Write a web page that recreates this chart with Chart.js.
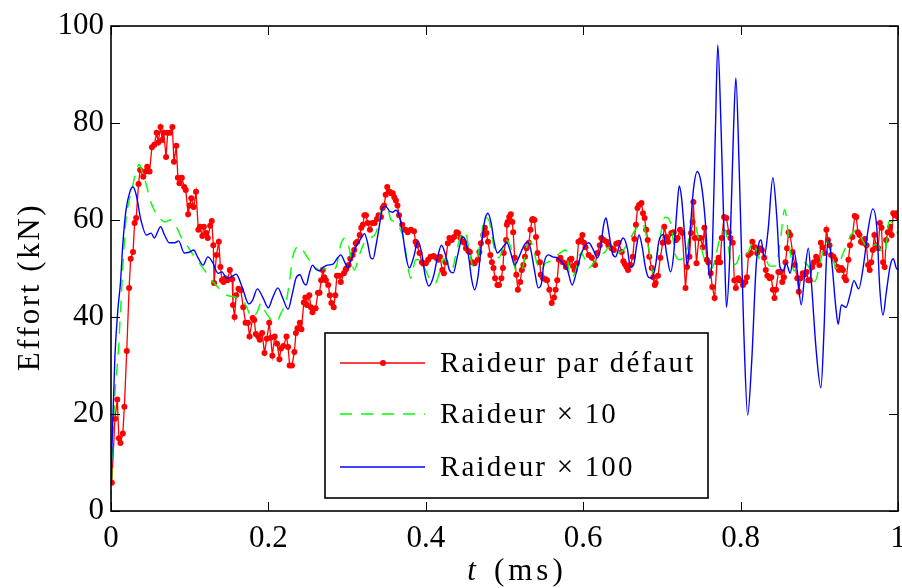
<!DOCTYPE html>
<html>
<head>
<meta charset="utf-8">
<script src="https://cdn.jsdelivr.net/npm/chart.js@4.4.0/dist/chart.umd.min.js"></script>
<style>
html, body { margin: 0; padding: 0; background: #fff; }
</style>
</head>
<body>
<canvas id="effortChart" width="902" height="588"></canvas>
<script>
// temps (ms) et effort (kN)
const redT = [0.001,0.005,0.008,0.010,0.012,0.015,0.017,0.020,0.023,0.025,
  0.028,0.030,0.032,0.035,0.037,0.041,0.044,0.046,0.049,0.052,
  0.055,0.058,0.060,0.063,0.065,0.067,0.070,0.072,0.075,0.078,
  0.080,0.083,0.085,0.087,0.090,0.093,0.095,0.098,0.100,0.102,
  0.105,0.108,0.111,0.113,0.116,0.118,0.121,0.123,0.126,0.128,
  0.130,0.131,0.134,0.137,0.139,0.141,0.143,0.145,0.148,0.151,
  0.154,0.155,0.157,0.159,0.162,0.165,0.168,0.171,0.174,0.176,
  0.180,0.182,0.184,0.187,0.189,0.192,0.195,0.198,0.201,0.203,
  0.205,0.208,0.211,0.214,0.216,0.219,0.223,0.225,0.227,0.230,
  0.233,0.235,0.237,0.240,0.242,0.245,0.247,0.249,0.252,0.254,
  0.256,0.260,0.263,0.265,0.267,0.269,0.271,0.273,0.276,0.278,
  0.280,0.283,0.285,0.287,0.290,0.292,0.296,0.298,0.299,0.302,
  0.304,0.307,0.309,0.311,0.313,0.316,0.318,0.320,0.322,0.324,
  0.326,0.329,0.332,0.335,0.338,0.340,0.343,0.345,0.347,0.349,
  0.351,0.354,0.356,0.358,0.360,0.362,0.364,0.366,0.370,0.374,
  0.377,0.381,0.385,0.387,0.389,0.392,0.395,0.397,0.400,0.403,
  0.406,0.410,0.413,0.416,0.418,0.421,0.423,0.425,0.428,0.430,
  0.433,0.436,0.439,0.441,0.444,0.447,0.449,0.451,0.454,0.456,
  0.459,0.462,0.466,0.468,0.470,0.473,0.475,0.477,0.479,0.482,
  0.484,0.486,0.488,0.491,0.493,0.496,0.498,0.499,0.502,0.503,
  0.504,0.506,0.508,0.510,0.511,0.513,0.515,0.517,0.520,0.522,
  0.524,0.526,0.528,0.531,0.533,0.535,0.536,0.538,0.540,0.542,
  0.545,0.546,0.549,0.552,0.554,0.557,0.560,0.563,0.565,0.567,
  0.569,0.571,0.574,0.578,0.580,0.583,0.585,0.587,0.589,0.592,
  0.594,0.597,0.599,0.601,0.603,0.607,0.611,0.615,0.618,0.621,
  0.623,0.626,0.630,0.632,0.636,0.639,0.642,0.645,0.649,0.651,
  0.653,0.655,0.657,0.660,0.663,0.665,0.667,0.669,0.671,0.674,
  0.676,0.678,0.680,0.682,0.684,0.687,0.689,0.691,0.692,0.695,
  0.698,0.701,0.703,0.706,0.708,0.712,0.715,0.718,0.720,0.723,
  0.726,0.730,0.732,0.735,0.737,0.739,0.740,0.742,0.744,0.747,
  0.749,0.752,0.754,0.757,0.759,0.762,0.764,0.767,0.770,0.772,
  0.774,0.776,0.779,0.782,0.785,0.787,0.790,0.792,0.794,0.797,
  0.799,0.803,0.806,0.808,0.810,0.813,0.815,0.818,0.821,0.824,
  0.827,0.830,0.832,0.834,0.837,0.839,0.841,0.843,0.845,0.848,
  0.851,0.853,0.855,0.857,0.859,0.861,0.863,0.866,0.869,0.872,
  0.874,0.876,0.879,0.881,0.884,0.886,0.888,0.891,0.893,0.896,
  0.897,0.900,0.902,0.904,0.907,0.909,0.911,0.913,0.915,0.918,
  0.920,0.923,0.925,0.928,0.930,0.932,0.934,0.937,0.939,0.942,
  0.945,0.947,0.949,0.951,0.953,0.955,0.958,0.960,0.962,0.964,
  0.966,0.968,0.970,0.972,0.975,0.977,0.979,0.981,0.983,0.985,
  0.987,0.990,0.992,0.994,0.996,0.998,1.000];
const redF = [5.8,19,23,15,14,16,21.5,33,46,52,
  53.4,59.4,60.4,67.4,70.3,68.9,70,71,70,75,
  75.5,78,76,79.2,76.5,78,73,78,78,79.2,
  72,75.3,68.7,67.6,68.7,66.8,66.2,61.2,63,64.5,
  62.7,65.8,58,58.6,56.7,58.6,57.3,56.3,58.8,59.8,
  54.8,47,52.8,55.5,50.3,47.6,47.2,48,47.6,49.7,
  47.8,42.5,40,44.5,45.8,45.5,42,38.8,38.8,36,
  39.8,39.4,36.5,36,35.3,36.7,32.6,35.5,38.8,35.7,
  32,36,34.5,31.3,33.5,34,36,33.8,30,30,
  32.8,36.7,37.7,38.8,37.5,43,44,42.5,44.5,42,
  41,41.8,45,45,47.6,49.7,48.2,47.6,46.6,44.5,
  42.9,42,44.5,48.5,48.5,47.2,49,49.7,50,50.7,
  52,52.8,53.8,55.2,55.5,56.9,58.4,59,61,61,
  59.4,58,59.4,59.4,60.2,61,60.6,62.5,63,65.2,
  66.8,65.8,65.5,65.5,64.7,64,63,61,59,58,
  57.5,58,57.7,55.5,54.8,53.2,51.3,51,51.1,51.8,
  52.4,52.6,52.2,51.8,52.4,49.7,49,51.3,55.2,56.3,
  55.9,56.5,57.5,57.3,56.3,55.5,55.3,54.2,53.6,53.4,
  51.3,51.1,51.8,53.4,55.2,56.9,58.4,57.3,55.5,52.8,
  51.3,50.1,48,46.6,46.6,48,50.1,53.2,55.9,59,
  59.6,60.6,61.2,59.6,57.5,52.2,48.7,45.6,47.2,49.7,
  50.7,52.4,54.2,55.3,58,60,60.2,60,56.5,53.2,
  51.3,48.7,48,47.8,47.6,45.6,42.9,44,45.6,47.6,
  51.8,52.2,51.3,50.3,51.1,51.8,52,50.5,49.7,51.1,
  55.5,55.9,56.9,55.3,54.4,52.8,52.2,50.7,53.2,54.8,
  56.3,55.9,55.5,54.8,54.2,53.8,55.1,55.3,53.4,51.5,
  50.9,50.3,49.7,50.7,52.4,56.1,59,62.5,63.1,63.5,
  61.4,60.4,58,55.9,52.4,50.1,48.2,46.6,47,48.5,
  52.2,55.3,58.6,56.5,55.5,57.3,57.5,55.9,56.3,58,
  57.3,46,50.3,52.4,57.3,59.6,63.7,56.3,51.1,56.3,
  56.3,54.4,58.4,51.8,51.3,49,46.2,43.9,51.3,52.2,
  51.3,56.3,60.6,60.4,57.5,56.3,55.3,47.6,46,48,
  47.6,46.6,47.2,48.2,52.8,53.2,55.5,54.4,53.2,54.2,
  53.8,52.2,49.7,48.5,48,48.2,45.6,43.9,45.6,49.3,
  49.3,47.2,48.2,51.3,54.2,57.5,56.9,53.4,50.7,48,
  45.2,48,49,48.7,49.3,47.6,47.6,50.3,51.3,52.4,
  51.8,50.7,55.3,54.4,53.2,58,55.9,54.8,52.8,52.4,
  51.8,50.3,49.7,50.1,49.7,48.2,47.6,51.8,54.8,56.5,
  60.8,60.6,57.5,56.9,55.5,55.3,56.1,54.8,50.7,49.7,
  51.3,53.8,56.9,54.8,54.2,59.4,58.4,51.3,50.3,55.9,
  57.5,58.6,56.9,61.4,61,61.4,60.6];

const greenT = [0.000,0.001,0.005,0.009,0.013,0.016,0.019,0.023,0.026,0.032,
  0.036,0.038,0.045,0.049,0.055,0.062,0.068,0.076,0.083,0.089,
  0.098,0.106,0.114,0.123,0.131,0.139,0.147,0.159,0.168,0.174,
  0.178,0.185,0.191,0.195,0.204,0.210,0.216,0.223,0.227,0.231,
  0.235,0.240,0.245,0.250,0.259,0.265,0.271,0.280,0.286,0.292,
  0.297,0.301,0.305,0.309,0.316,0.324,0.330,0.337,0.343,0.347,
  0.351,0.356,0.362,0.366,0.373,0.377,0.381,0.387,0.392,0.398,
  0.406,0.412,0.418,0.423,0.428,0.433,0.439,0.445,0.450,0.456,
  0.460,0.465,0.470,0.475,0.480,0.487,0.493,0.502,0.508,0.514,
  0.521,0.529,0.533,0.542,0.546,0.552,0.559,0.569,0.578,0.584,
  0.590,0.597,0.602,0.607,0.613,0.620,0.628,0.632,0.641,0.651,
  0.659,0.668,0.675,0.683,0.689,0.696,0.704,0.711,0.717,0.723,
  0.732,0.739,0.747,0.755,0.763,0.774,0.780,0.789,0.795,0.801,
  0.808,0.816,0.825,0.831,0.837,0.844,0.850,0.856,0.863,0.868,
  0.875,0.886,0.894,0.903,0.911,0.922,0.930,0.939,0.947,0.956,
  0.964,0.972,0.983,0.989,0.996,1.000];
const greenF = [2,8,24,32,44,53,60,64,66,70,
  71.5,70.7,67.2,64.5,62,60.4,59.6,60,58.6,56.5,
  54.4,52.4,50.7,48.7,47,45.6,44.5,44.1,43.5,41.4,
  40,40.8,42.9,41.4,39.4,39,40.8,43.5,47.6,52.4,
  54.2,54.6,53.5,52.2,50.3,49.7,50,49.7,50.3,55,
  56.3,55.3,52.2,49.7,53,55.9,56.3,57.5,61.6,62.7,
  62.5,60,59.6,58.6,55.3,50.5,48,51.8,51.8,50.3,
  47.5,47,49.5,52,51,49.7,53.5,57,57.5,53,
  50.5,52,56,60.5,60,54.2,52.2,55.9,54.4,49.7,
  49.3,54.8,55.5,50.7,49.5,51.1,51.5,53,53.8,48,
  49.3,53.2,52,50.1,51.1,52.8,53.4,54.4,53.2,53.8,
  56,58.4,59.4,54.4,49,54.8,60.6,59.4,53,51.8,
  54,60.4,56,51.5,50,56.3,58,50.7,51.1,53.4,
  53,55.5,51.8,52,50.5,50.5,55,62.1,53.5,49.5,
  51.5,50.5,47.3,52.5,55.6,50,53,56.5,58,55.5,
  54,55,53,59.8,58.6,57];

const blueT = [0.000,0.001,0.005,0.009,0.012,0.015,0.019,0.024,0.028,0.032,
  0.038,0.045,0.051,0.055,0.063,0.068,0.074,0.081,0.086,0.093,
  0.100,0.105,0.110,0.117,0.123,0.129,0.136,0.141,0.147,0.152,
  0.159,0.167,0.175,0.180,0.186,0.193,0.200,0.205,0.212,0.218,
  0.225,0.230,0.235,0.240,0.245,0.248,0.252,0.256,0.260,0.265,
  0.270,0.275,0.282,0.288,0.292,0.297,0.301,0.305,0.311,0.318,
  0.322,0.326,0.330,0.333,0.337,0.341,0.345,0.349,0.354,0.358,
  0.362,0.366,0.370,0.375,0.379,0.385,0.390,0.395,0.399,0.404,
  0.410,0.415,0.420,0.425,0.430,0.435,0.440,0.447,0.451,0.455,
  0.458,0.462,0.466,0.471,0.475,0.479,0.483,0.487,0.491,0.497,
  0.503,0.508,0.513,0.518,0.525,0.529,0.533,0.538,0.543,0.547,
  0.550,0.556,0.561,0.567,0.573,0.580,0.586,0.591,0.597,0.603,
  0.607,0.613,0.618,0.622,0.626,0.629,0.632,0.637,0.641,0.647,
  0.651,0.656,0.660,0.664,0.668,0.671,0.675,0.679,0.683,0.687,
  0.692,0.696,0.702,0.706,0.711,0.715,0.719,0.722,0.725,0.730,
  0.732,0.736,0.740,0.745,0.750,0.755,0.758,0.761,0.764,0.768,
  0.771,0.775,0.780,0.782,0.786,0.791,0.794,0.798,0.804,0.809,
  0.814,0.820,0.826,0.830,0.835,0.841,0.846,0.850,0.854,0.858,
  0.863,0.868,0.872,0.877,0.882,0.886,0.890,0.896,0.902,0.906,
  0.909,0.912,0.916,0.921,0.924,0.928,0.934,0.939,0.944,0.950,
  0.956,0.962,0.968,0.973,0.977,0.981,0.985,0.990,0.994,0.998,
  1.000];
const blueF = [6,12,32,42,47,55,62,65.8,66.8,65.2,
  60,56.9,57.3,56.3,58.6,56.9,55.3,55.3,55.7,53.2,
  53.4,53.8,52.4,50.7,52.4,51.3,49,49.3,48,48.2,
  48.8,46,42.7,43.5,45.8,44,41.9,43.8,46,44,
  41.6,44.5,48,48.7,47,46.6,49,50.7,49.9,49.5,
  50.3,50.7,50.9,52.2,52.8,51.3,50.1,51.8,54.4,56.3,
  57.2,55.3,52.2,52,55,58.8,62.5,62.8,61.8,61.6,
  62,61,57.8,52.3,50.1,52.6,55.7,53,48.7,46.4,
  48.5,52.4,54.8,52.8,49.7,49.1,52.4,56.5,55.5,51.8,
  48,45.6,48,55.3,60,61.4,59.4,55.3,53.2,54.2,
  55.3,53.2,50.7,52.2,54.8,55.5,54.2,49.7,46,47,
  51,52.8,52.4,52.2,51.3,49.7,46.6,49,52.8,54.8,
  55.3,53.8,52.2,54.2,59,60.4,58,53.2,52.4,55.3,
  56.3,54.2,50.3,50.7,54.8,56.9,54.4,50.3,48.2,48,
  50.7,55.5,57,53,49.3,53,62,67,64.5,54.4,
  50.5,58,66.2,70,67.5,60,52.4,48,53,78.6,
  96.1,80,51.1,42,51.5,78.6,89.3,71.8,37.3,19.8,
  30.5,51.1,55.9,52.4,58,68.7,60.6,50.3,49.5,51.1,
  49,53.4,49.5,42.5,49.7,54.2,47,33.2,25.4,37.3,
  51.8,55.9,51.1,42,38.5,42.5,42,44.5,47.5,45.8,
  50.5,58,62.3,58.5,45.6,40.4,44.9,50.5,52,50,
  49.8];

const seriesLabels = ['Raideur par défaut', 'Raideur \u00d7 10', 'Raideur \u00d7 100'];
const xTickStep = 0.2;
const yTickStep = 20;

const serif = "'Liberation Serif', 'Times New Roman', serif";
Chart.defaults.font.family = serif;
Chart.defaults.color = '#000';

const toPoints = (ts, fs) => ts.map((t, i) => ({ x: t, y: fs[i] }));

function spaced(ctx, text, x, y, spacing) {
  // texte avec espacement des lettres (comme le rendu LaTeX de l'original)
  ctx.letterSpacing = spacing + 'px';
  ctx.fillText(text, x, y);
  ctx.letterSpacing = '0px';
}

const frameAndLegend = {
  id: 'frameAndLegend',
  afterDatasetsDraw(chart) {
    const { ctx, chartArea: ca, scales } = chart;
    ctx.save();
    ctx.strokeStyle = '#000';
    ctx.lineWidth = 1;
    const tl = 9;
    ctx.beginPath();
    scales.x.ticks.forEach(t => {
      const px = Math.round(scales.x.getPixelForValue(t.value)) + 0.5;
      ctx.moveTo(px, ca.bottom); ctx.lineTo(px, ca.bottom - tl);
      ctx.moveTo(px, ca.top); ctx.lineTo(px, ca.top + tl);
    });
    scales.y.ticks.forEach(t => {
      const py = Math.round(scales.y.getPixelForValue(t.value)) + 0.5;
      ctx.moveTo(ca.left, py); ctx.lineTo(ca.left + tl, py);
      ctx.moveTo(ca.right, py); ctx.lineTo(ca.right - tl, py);
    });
    ctx.stroke();
    ctx.lineWidth = 1.6;
    ctx.strokeRect(ca.left, ca.top, ca.right - ca.left, ca.bottom - ca.top);

    // légende dans le cadre
    const bx = ca.left + 214, by = ca.top + 307, bw = 383, bh = 165;
    ctx.fillStyle = '#fff';
    ctx.fillRect(bx, by, bw, bh);
    ctx.lineWidth = 1.6;
    ctx.strokeRect(bx, by, bw, bh);
    const rows = [30, 81, 134];
    chart.data.datasets.forEach((ds, i) => {
      const y = by + rows[i];
      ctx.save();
      ctx.strokeStyle = ds.borderColor;
      ctx.lineWidth = ds.borderWidth;
      ctx.setLineDash(ds.borderDash || []);
      ctx.beginPath();
      ctx.moveTo(bx + 15, y); ctx.lineTo(bx + 100, y);
      ctx.stroke();
      if (ds.pointRadius > 0) {
        ctx.fillStyle = ds.pointBackgroundColor;
        ctx.beginPath();
        ctx.arc(bx + 58, y, ds.pointRadius, 0, Math.PI * 2);
        ctx.fill();
      }
      ctx.restore();
      ctx.fillStyle = '#000';
      ctx.font = '29px ' + serif;
      ctx.textAlign = 'left';
      ctx.textBaseline = 'middle';
      spaced(ctx, ds.label, bx + 115, y + 1, 2.2);
    });
    ctx.restore();
  },
  afterDraw(chart) {
    const { ctx } = chart;
    ctx.save();
    ctx.fillStyle = '#000';
    ctx.textBaseline = 'middle';
    // titre axe y
    ctx.save();
    ctx.translate(31, 287);
    ctx.rotate(-Math.PI / 2);
    ctx.textAlign = 'center';
    ctx.font = '31px ' + serif;
    spaced(ctx, 'Effort (kN)', 0, 0, 2.6);
    ctx.restore();
    // titre axe x : t en italique
    ctx.textAlign = 'left';
    ctx.font = 'italic 31px ' + serif;
    const tW = ctx.measureText('t').width;
    ctx.font = '31px ' + serif;
    ctx.letterSpacing = '4px';
    const restW = ctx.measureText('(ms)').width;
    ctx.letterSpacing = '0px';
    const gap = 18;
    const x0 = 517 - (tW + gap + restW) / 2;
    ctx.font = 'italic 31px ' + serif;
    ctx.fillText('t', x0, 572);
    ctx.font = '31px ' + serif;
    spaced(ctx, '(ms)', x0 + tW + gap, 572, 4);
    ctx.restore();
  }
};

const ctx = document.getElementById('effortChart').getContext('2d');
const effortChart = new Chart(ctx, {
  type: 'line',
  data: {
    datasets: [{
      label: seriesLabels[0],
      data: toPoints(redT, redF),
      borderColor: '#ff0000',
      backgroundColor: '#ff0000',
      pointBackgroundColor: '#ff0000',
      borderWidth: 1.3,
      pointRadius: 3,
      pointBorderWidth: 0,
      tension: 0,
      order: 3
    }, {
      label: seriesLabels[1],
      data: toPoints(greenT, greenF),
      borderColor: '#00ff00',
      borderWidth: 1.4,
      borderDash: [12, 9],
      pointRadius: 0,
      cubicInterpolationMode: 'monotone',
      order: 2
    }, {
      label: seriesLabels[2],
      data: toPoints(blueT, blueF),
      borderColor: '#0000ff',
      borderWidth: 1.4,
      pointRadius: 0,
      cubicInterpolationMode: 'monotone',
      order: 1
    }]
  },
  options: {
    responsive: false,
    animation: false,
    events: [],
    layout: { padding: { top: 26, right: 1, bottom: 0, left: 0 } },
    plugins: { legend: { display: false }, tooltip: { enabled: false } },
    scales: {
      x: {
        type: 'linear',
        min: 0,
        max: 1,
        grid: { display: false, drawTicks: false },
        border: { display: false },
        ticks: {
          stepSize: xTickStep,
          padding: 9,
          maxRotation: 0,
          autoSkip: false,
          font: { size: 31 },
          callback: v => String(Math.round(v * 10) / 10)
        },
        afterFit: s => { s.height = 77; s.paddingLeft = 0; s.paddingRight = 0; }
      },
      y: {
        min: 0,
        max: 100,
        grid: { display: false, drawTicks: false },
        border: { display: false },
        ticks: { stepSize: yTickStep, padding: 7, font: { size: 31 } },
        afterFit: s => { s.width = 111; s.paddingTop = 0; s.paddingBottom = 0; }
      }
    }
  },
  plugins: [frameAndLegend]
});
</script>
</body>
</html>
